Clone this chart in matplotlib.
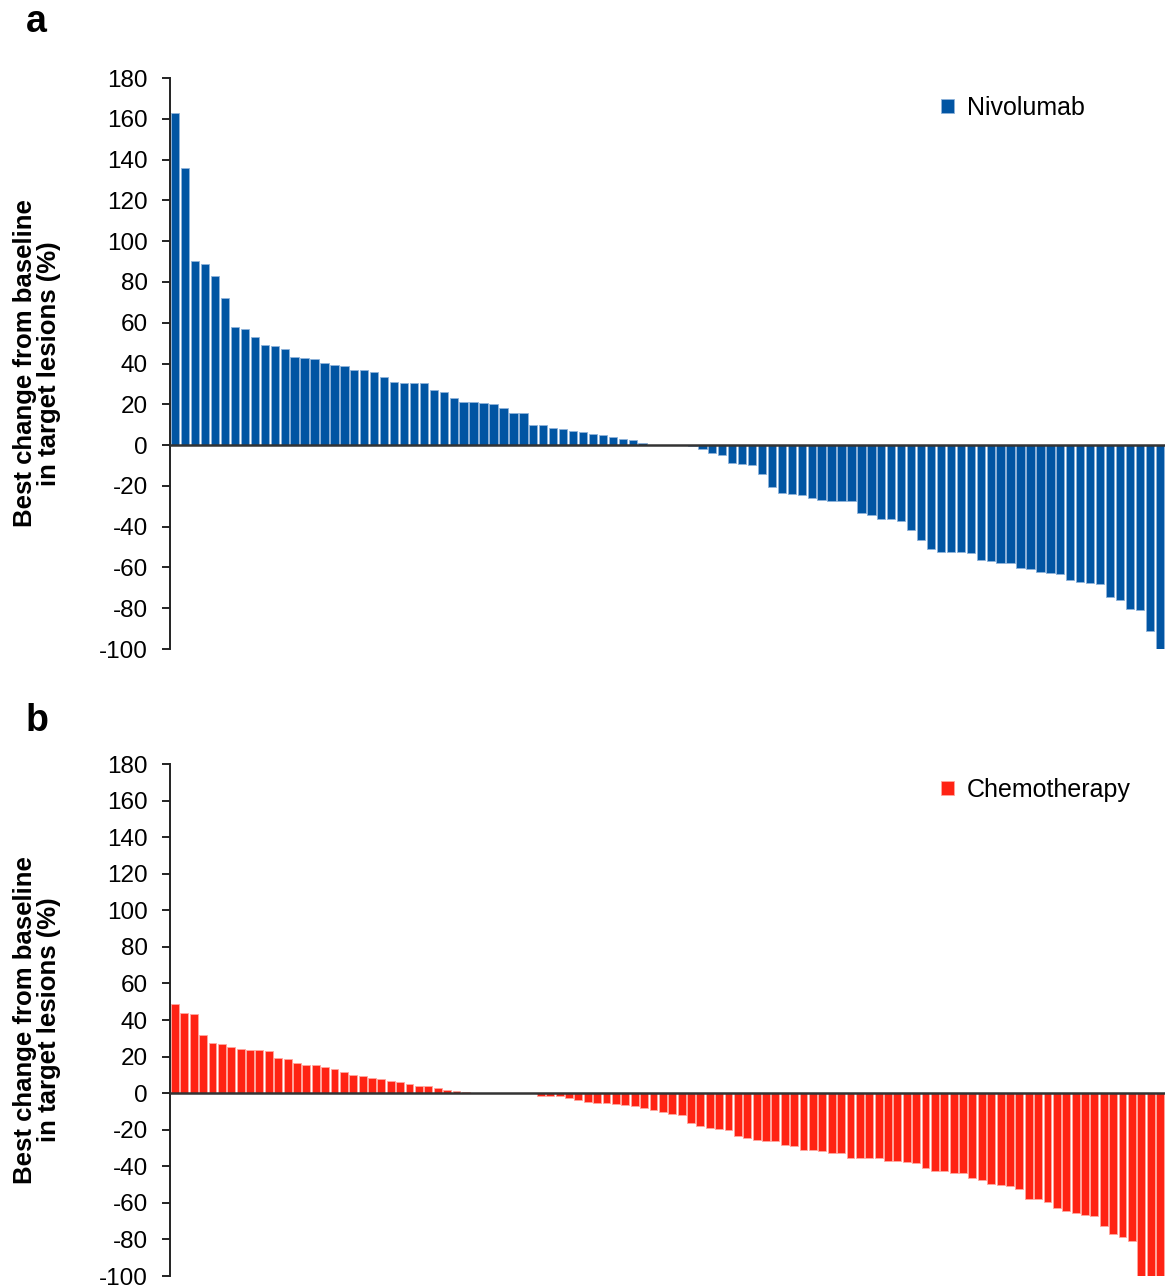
"""Waterfall plots: best change from baseline in target lesions, two arms."""
import numpy as np
import matplotlib
matplotlib.use("Agg")
import matplotlib.pyplot as plt

plt.rcParams["font.family"] = ["Liberation Sans", "DejaVu Sans"]
plt.rcParams["axes.unicode_minus"] = False

# ---- data (one value per patient, sorted) ----
nivo_change = [
    163, 136, 90.5, 89, 83, 72, 58, 57, 53, 49,
    48.5, 47, 43, 42.8, 42.3, 40.3, 39.5, 39, 37, 36.6,
    35.8, 33.5, 31, 30.5, 30.4, 30.4, 27, 26, 23.2, 21.2,
    21.2, 20.8, 20, 18.3, 15.5, 15.5, 10, 9.8, 8.3, 7.8,
    7, 6.5, 5.4, 5.1, 4.2, 2.9, 2.3, 1.1, 0, 0,
    0, 0, -0.5, -1.8, -4, -4.7, -8.7, -9.2, -9.8, -14.2,
    -20.6, -23.6, -24, -24.7, -26, -27.1, -27.5, -27.5, -27.5, -33.5,
    -34.5, -36, -36, -37.3, -41.8, -46.7, -51, -52.3, -52.6, -52.6,
    -52.9, -56.5, -56.7, -57.7, -58, -60.3, -61, -62, -62.6, -63.2,
    -66.3, -67.3, -67.8, -68.1, -74.3, -76, -80.6, -81, -91, -100,
]
chemo_change = [
    49, 43.9, 43.1, 31.7, 27.7, 27, 25, 24.4, 23.7, 23.7,
    23.1, 19.1, 18.5, 16.5, 15.2, 15.2, 14.3, 13.4, 11.6, 10.1,
    9.4, 8.4, 7.7, 6.8, 5.9, 5.1, 3.7, 3.7, 2.9, 1.7,
    1.3, 0.6, 0, 0, 0, 0, 0, 0, 0, -1.5,
    -1.5, -1.6, -2.4, -3.5, -4.9, -5.6, -5.6, -5.8, -6.5, -7.1,
    -8.2, -9.1, -10.4, -11.3, -12, -16.4, -18, -18.8, -19.6, -20.1,
    -23.2, -24.7, -25.4, -26.1, -26.4, -28.3, -28.7, -30.9, -31, -31.6,
    -32.8, -32.8, -35.4, -35.4, -35.4, -35.4, -37, -37, -37.4, -38.3,
    -40.7, -42.7, -42.7, -43.4, -43.8, -46.3, -47.4, -49.8, -50, -50.5,
    -52.5, -58.1, -58.1, -59.6, -63, -64.5, -65.7, -66.4, -67, -72.6,
    -76.8, -78.6, -80.8, -100, -100, -100,
]
y_ticks = list(range(-100, 181, 20))

W, H = 1167, 1288
# letter, legend name, values, fill, edge, axes rect, legend centre y (px), letter y (px)
PANELS = [
    ("a", "Nivolumab", nivo_change, "#0155a3", "#8fb3da",
     [0.1457, 0.4961, 0.8526, 0.4433], 108, 22),
    ("b", "Chemotherapy", chemo_change, "#ff2314", "#ffa79f",
     [0.1457, 0.0093, 0.8526, 0.3975], 790, 721),
]


def main() -> None:
    fig = plt.figure(figsize=(W / 100, H / 100), dpi=100)

    for letter, name, vals, color, edge, rect, leg_y, let_y in PANELS:
        ax = fig.add_axes(rect)
        x = np.arange(1, len(vals) + 1)
        ax.bar(x, vals, width=0.84, color=color, edgecolor=edge, lw=0.6, label=name)
        ax.axhline(0, color="#333333", lw=1.8, zorder=3)

        ax.set_xlim(0.47, len(vals) + 0.53)
        ax.set_ylim(-100, 180)
        ax.set_yticks(y_ticks)
        ax.set_xticks([])
        for s in ("top", "right", "bottom"):
            ax.spines[s].set_visible(False)
        ax.spines["left"].set_linewidth(1.4)
        ax.spines["left"].set_color("#222222")
        ax.tick_params(axis="y", direction="out", length=6, width=1.4,
                       color="#222222", labelsize=17.5, pad=10)

        ax.legend(loc="center left", bbox_to_anchor=(941 / W, 1 - leg_y / H),
                  bbox_transform=fig.transFigure, frameon=False, fontsize=18,
                  handlelength=0.52, handleheight=0.52, handletextpad=0.52,
                  borderpad=0, borderaxespad=0)

        cy = rect[1] + rect[3] / 2
        fig.text(0.032, cy, "Best change from baseline\nin target lesions (%)",
                 rotation=90, ha="center", va="center", fontsize=18.5,
                 fontweight="bold", multialignment="center", linespacing=1.0)
        fig.text(26 / W, 1 - let_y / H, letter, fontsize=27,
                 fontweight="bold", ha="left", va="center")

    fig.savefig("out.png", dpi=100)


if __name__ == "__main__":
    main()
